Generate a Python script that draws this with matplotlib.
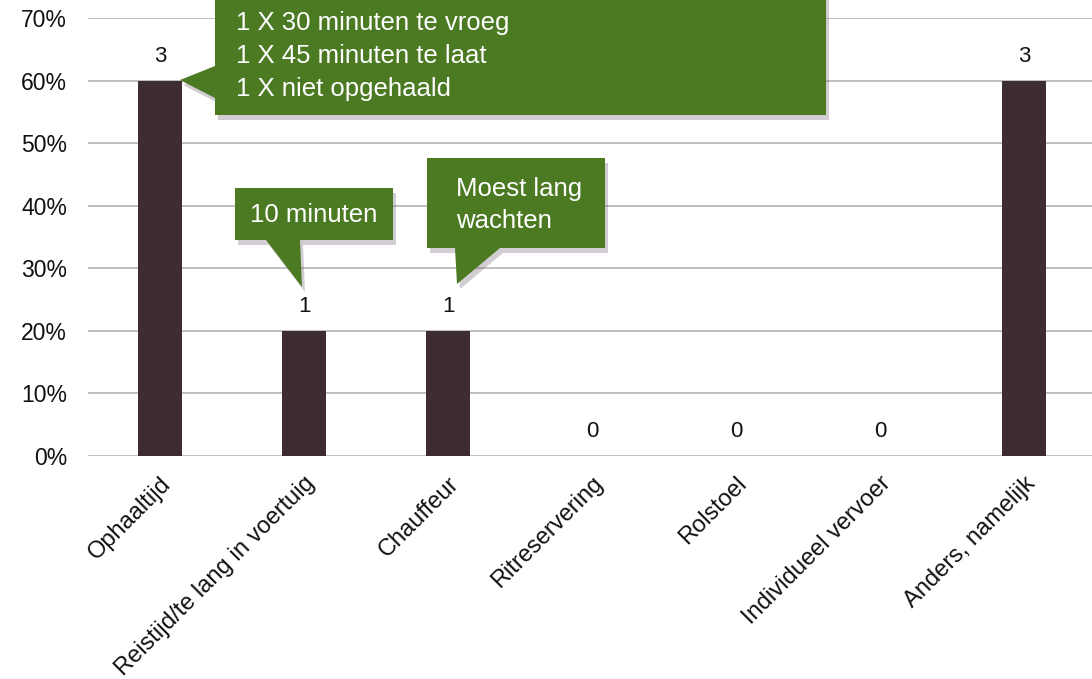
import matplotlib
matplotlib.use("Agg")
import matplotlib.pyplot as plt
from matplotlib.patches import Polygon
from matplotlib.ticker import FuncFormatter

categories = ["Ophaaltijd", "Reistijd/te lang in voertuig", "Chauffeur",
              "Ritreservering", "Rolstoel", "Individueel vervoer", "Anders, namelijk"]
percentages = [60, 20, 20, 0, 0, 0, 60]
counts = [3, 1, 1, 0, 0, 0, 3]
yticks = [0, 10, 20, 30, 40, 50, 60, 70]

callout_texts = ["1 X 30 minuten te vroeg\n1 X 45 minuten te laat\n1 X niet opgehaald",
                 "10 minuten",
                 "Moest lang\nwachten"]

plt.rcParams['font.family'] = ['Liberation Sans', 'DejaVu Sans']

W, H = 1092, 679
fig = plt.figure(figsize=(W / 100, H / 100), dpi=100)
ax = fig.add_axes([88 / W, 1 - 456 / H, (1096 - 88) / W, (456 - 18) / H])

x = list(range(len(categories)))
ax.bar(x, percentages, width=0.31, color="#3e2c33", zorder=3)
ax.set_xlim(-0.5, 6.5)
ax.set_ylim(0, 70)
ax.set_yticks(yticks)
ax.yaxis.set_major_formatter(FuncFormatter(lambda v, p: f"{int(v)}%"))
ax.grid(axis="y", color="#b4b4b4", linewidth=1.2, zorder=0)
ax.set_axisbelow(True)
for s in ax.spines.values():
    s.set_visible(False)
ax.tick_params(axis="both", length=0, colors="#111111")
ax.tick_params(axis="y", pad=15, labelsize=16.5)
ax.set_xticks(x)
ax.set_xticklabels(categories, rotation=45, ha="right", va="top",
                   rotation_mode="anchor", fontsize=17)
ax.tick_params(axis="x", pad=12)

for xi, p, c in zip(x, percentages, counts):
    ax.annotate(str(c), (xi, p), xytext=(0, 10), textcoords="offset points",
                ha="center", va="bottom", fontsize=16, color="#111111")


def px(pts):
    return [(a / W, 1 - b / H) for a, b in pts]


green = "#4b7a23"


def callout(poly, text, tx, ty, ha="left"):
    shadow = [(a + 3, b + 5) for a, b in poly]
    fig.patches.append(Polygon(px(shadow), closed=True, transform=fig.transFigure,
                               facecolor="#6a5a6a", alpha=0.3, edgecolor="none", zorder=4))
    fig.patches.append(Polygon(px(poly), closed=True, transform=fig.transFigure,
                               facecolor=green, edgecolor="none", zorder=5))
    fig.text(tx / W, 1 - ty / H, text, color="white", fontsize=18.5, ha=ha, va="center",
             linespacing=1.45, zorder=6)


# Callout 1 (Ophaaltijd)
callout([(215, -5), (826, -5), (826, 115), (215, 115), (215, 98), (180, 80), (215, 66)],
        callout_texts[0], 236, 56)
# Callout 2 (Reistijd)
callout([(235, 188), (393, 188), (393, 240), (300, 240), (302, 287), (266, 240), (235, 240)],
        callout_texts[1], 314, 215, ha="center")
# Callout 3 (Chauffeur)
callout([(427, 158), (605, 158), (605, 248), (500, 248), (457, 284), (455, 248), (427, 248)],
        callout_texts[2], 456, 205)

fig.savefig("out.png", dpi=100, facecolor="white")
